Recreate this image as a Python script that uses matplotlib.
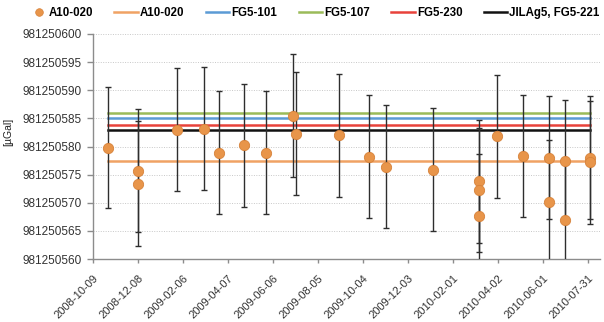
import matplotlib
matplotlib.use("Agg")
import matplotlib.pyplot as plt
from matplotlib.lines import Line2D
from matplotlib.legend_handler import HandlerBase
import datetime as dt

plt.rcParams['font.family'] = ['Liberation Sans', 'DejaVu Sans']

# A10-020 measurements
obs_dates = ["2008-10-29", "2008-12-08", "2008-12-08", "2009-01-28", "2009-03-06",
             "2009-03-26", "2009-04-28", "2009-05-28", "2009-07-03", "2009-07-07",
             "2009-09-02", "2009-10-12", "2009-11-03", "2010-01-05", "2010-03-08",
             "2010-03-08", "2010-03-08", "2010-03-31", "2010-05-05", "2010-06-09",
             "2010-06-09", "2010-06-30", "2010-06-30", "2010-08-02", "2010-08-02"]
obs_values = [981250579.8, 981250575.7, 981250573.4, 981250583.0, 981250583.2,
              981250578.9, 981250580.2, 981250578.9, 981250585.5, 981250582.3,
              981250582.0, 981250578.2, 981250576.4, 981250575.9, 981250573.8,
              981250572.3, 981250567.7, 981250581.8, 981250578.3, 981250578.0,
              981250570.2, 981250577.4, 981250567.0, 981250578.0, 981250577.2]
obs_errors = [10.8, 10.9, 11.1, 10.9, 10.9, 10.9, 10.9, 10.9, 11.0, 10.9,
              10.9, 10.9, 10.9, 10.9, 11.0, 11.0, 11.0, 10.9, 10.8, 10.9,
              10.9, 10.9, 11.0, 10.9, 10.9]

# Reference levels
ref_names = ["A10-020", "FG5-101", "FG5-107", "FG5-230", "JILAg5, FG5-221"]
ref_values = [981250577.4, 981250585.0, 981250586.0, 981250583.9, 981250582.9]
ref_colors = ["#F0A264", "#5B9BD5", "#9BBB59", "#E8423B", "#111111"]
ref_span = ["2008-10-29", "2010-08-02"]

tick_start = "2008-10-09"
tick_step_days = 60
n_ticks = 12
x_limits = ["2008-10-09", "2010-08-16"]
y_ticks = [981250560, 981250565, 981250570, 981250575, 981250580,
           981250585, 981250590, 981250595, 981250600]

MARKER_COLOR = '#E8954A'
MARKER_EDGE = '#D7823A'
TEXT_COLOR = '#333333'


def d(s):
    return dt.datetime.strptime(s, "%Y-%m-%d")


class MarkerRight(HandlerBase):
    def create_artists(self, legend, orig_handle, xdescent, ydescent, width,
                       height, fontsize, trans):
        m = Line2D([width - xdescent - 5.5], [height / 2 - ydescent], marker='o',
                   linestyle='none', markersize=5.5, markerfacecolor=MARKER_COLOR,
                   markeredgecolor=MARKER_EDGE, markeredgewidth=0.5, transform=trans)
        return [m]


W, H = 604, 322
L, R, T, B = 93.3, 600, 34, 259
fig = plt.figure(figsize=(W/100, H/100), dpi=100)
ax = fig.add_axes([L/W, 1-B/H, (R-L)/W, (B-T)/H])

x = [d(s) for s in obs_dates]

handles = []
span = [d(ref_span[0]), d(ref_span[1])]
for name, val, col in zip(ref_names, ref_values, ref_colors):
    h, = ax.plot(span, [val, val], color=col, lw=1.8, zorder=2, label=name)
    handles.append(h)

ax.errorbar(x, obs_values, yerr=obs_errors, fmt='none', ecolor='#2E2E2E',
            elinewidth=1.0, capsize=2.2, capthick=1.0, zorder=3)
sc = ax.scatter(x, obs_values, s=55, color=MARKER_COLOR, edgecolor=MARKER_EDGE,
                linewidth=0.6, zorder=4, label="A10-020")

ax.set_ylim(y_ticks[0], y_ticks[-1])
ax.set_yticks(y_ticks)
ax.set_yticklabels([str(v) for v in y_ticks], fontsize=8.5, color=TEXT_COLOR)
ax.yaxis.grid(True, linestyle=(0, (1, 1.5)), color='#C8C8C8', lw=0.7)
ax.set_axisbelow(True)

ticks = [d(tick_start) + dt.timedelta(days=tick_step_days * i) for i in range(n_ticks)]
ax.set_xticks(ticks)
ax.set_xticklabels([t.strftime("%Y-%m-%d") for t in ticks], rotation=45,
                   ha='right', rotation_mode='anchor', fontsize=8, color=TEXT_COLOR)
ax.set_xlim(d(x_limits[0]), d(x_limits[1]))

for s in ['top', 'right']:
    ax.spines[s].set_visible(False)
for s in ['left', 'bottom']:
    ax.spines[s].set_color('#8C8C8C')
    ax.spines[s].set_linewidth(1.0)
ax.tick_params(axis='y', color='#8C8C8C', length=4, width=1.0, pad=4.5)
ax.tick_params(axis='x', color='#8C8C8C', length=3, width=1.0, pad=7)

ax.set_ylabel("[µGal]", fontsize=7.5, color='#222222')
ax.yaxis.set_label_coords((13.5 - L) / (R - L), (B - 132) / (B - T))

leg = fig.legend([sc] + handles, ["A10-020"] + ref_names, loc='center left',
                 bbox_to_anchor=(23/W, 1-12.7/H), ncol=6, frameon=False,
                 prop={'weight': 'bold', 'size': 8.3}, handlelength=2.05,
                 columnspacing=1.85, handletextpad=0.17, borderpad=0,
                 borderaxespad=0, handler_map={sc: MarkerRight()})

fig.savefig("out.png", dpi=100)
